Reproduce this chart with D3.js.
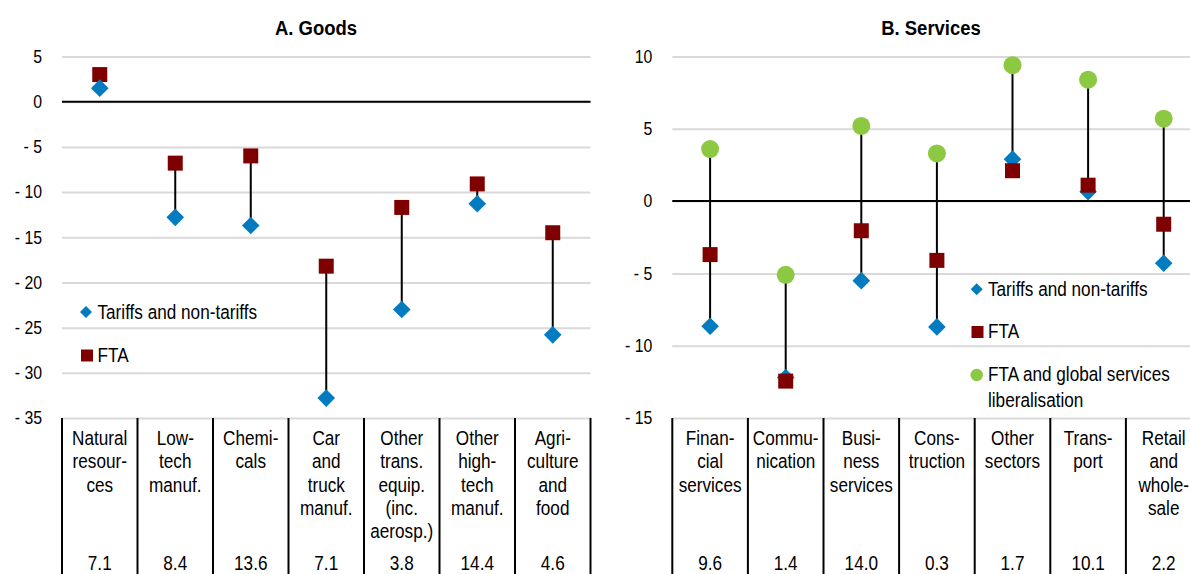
<!DOCTYPE html>
<html>
<head>
<meta charset="utf-8">
<script src="https://cdn.jsdelivr.net/npm/d3@7/dist/d3.min.js"></script>
<style>
  html, body { margin: 0; padding: 0; background: #fff; }
  svg { display: block; }
  text { font-family: "Liberation Sans", Arial, sans-serif; fill: #000; }
</style>
</head>
<body>
<svg id="chart" width="1190" height="574"></svg>
<script>
// ---- Data ----------------------------------------------------------------
// Panel A: goods sectors
const goodsCategories = ["Natural resources", "Low-tech manuf.", "Chemicals", "Car and truck manuf.",
  "Other trans. equip. (inc. aerosp.)", "Other high-tech manuf.", "Agriculture and food"];
const goodsLabelLines = [["Natural", "resour-", "ces"], ["Low-", "tech", "manuf."], ["Chemi-", "cals"],
  ["Car", "and", "truck", "manuf."], ["Other", "trans.", "equip.", "(inc.", "aerosp.)"],
  ["Other", "high-", "tech", "manuf."], ["Agri-", "culture", "and", "food"]];
const goodsShares = ["7.1", "8.4", "13.6", "7.1", "3.8", "14.4", "4.6"];
const goodsTariffs = [1.5, -12.8, -13.7, -32.8, -23.0, -11.3, -25.8];
const goodsFTA = [3.0, -6.8, -6.0, -18.2, -11.7, -9.1, -14.5];
const goodsTicks = [5, 0, -5, -10, -15, -20, -25, -30, -35];

// Panel B: services sectors
const servicesCategories = ["Financial services", "Communication", "Business services", "Construction",
  "Other sectors", "Transport", "Retail and wholesale"];
const servicesLabelLines = [["Finan-", "cial", "services"], ["Commu-", "nication"], ["Busi-", "ness", "services"],
  ["Cons-", "truction"], ["Other", "sectors"], ["Trans-", "port"], ["Retail", "and", "whole-", "sale"]];
const servicesShares = ["9.6", "1.4", "14.0", "0.3", "1.7", "10.1", "2.2"];
const servicesTariffs = [-8.65, -12.2, -5.5, -8.7, 2.9, 0.65, -4.3];
const servicesFTA = [-3.7, -12.45, -2.05, -4.1, 2.1, 1.1, -1.6];
const servicesGlobal = [3.6, -5.1, 5.2, 3.3, 9.4, 8.4, 5.7];
const servicesTicks = [10, 5, 0, -5, -10, -15];

// ---- Styling -------------------------------------------------------------
const BLUE = "#037bc1", RED = "#7f0000", GREEN = "#8cc841", GRID = "#d9d9d9";
const SX = 0.88;           // horizontal condensation for an Arial-Narrow look
const LABEL_SIZE = 19.5;
const TOP = 56.5, BOTTOM = 418;

const svg = d3.select("#chart");
svg.append("rect").attr("width", 1190).attr("height", 574).attr("fill", "#fff");

const fmt = d => d < 0 ? "- " + Math.abs(d) : String(d);

function narrow(sel, x, y) {
  return sel.attr("transform", `translate(${x},${y}) scale(${SX},1)`);
}

const diamond = s => `M0,${-s}L${s},0L0,${s}L${-s},0Z`;

function panel(opts) {
  const g = svg.append("g");
  const x = d3.scaleBand().domain(opts.categories).range([opts.left, opts.right]).padding(0);
  const y = d3.scaleLinear().domain(opts.domain).range([BOTTOM, TOP]);

  // Gridlines and tick labels
  const axis = d3.axisLeft(y).tickValues(opts.ticks).tickFormat(fmt)
    .tickSize(-(opts.right - opts.left)).tickPadding(20 / SX);
  const ax = g.append("g").attr("transform", `translate(${opts.left},0)`).call(axis);
  ax.select(".domain").remove();
  ax.selectAll(".tick line").attr("stroke", GRID).attr("stroke-width", 2);
  ax.selectAll(".tick text")
    .attr("font-size", 18).attr("font-family", "Liberation Sans, Arial, sans-serif")
    .attr("fill", "#000")
    .attr("x", -20 / SX)
    .attr("transform", `scale(${SX},1)`);

  // Zero line
  g.append("line").attr("x1", opts.left).attr("x2", opts.right)
    .attr("y1", y(0)).attr("y2", y(0)).attr("stroke", "#000").attr("stroke-width", 2);

  // Title
  narrow(g.append("text"), opts.titleX, 35)
    .attr("text-anchor", "middle").attr("font-size", 21).attr("font-weight", "bold")
    .text(opts.title);

  // Table of category names and shares beneath the plot
  const bounds = opts.categories.map(c => x(c)).concat([opts.right]);
  g.selectAll("line.col").data(bounds).join("line").attr("class", "col")
    .attr("x1", d => d).attr("x2", d => d).attr("y1", BOTTOM).attr("y2", 574)
    .attr("stroke", "#000").attr("stroke-width", 2);

  opts.categories.forEach((c, i) => {
    const cx = x(c) + x.bandwidth() / 2;
    opts.labelLines[i].forEach((line, j) => {
      narrow(g.append("text"), cx, 445 + j * 23.3)
        .attr("text-anchor", "middle").attr("font-size", LABEL_SIZE).text(line);
    });
    narrow(g.append("text"), cx, 569.5)
      .attr("text-anchor", "middle").attr("font-size", LABEL_SIZE).text(opts.shares[i]);
  });

  // Connectors from the lowest to the highest estimate in each sector
  const cx = i => x(opts.categories[i]) + x.bandwidth() / 2;
  const ranges = opts.categories.map((c, i) => {
    const vals = opts.series.map(s => s.values[i]);
    return [d3.min(vals), d3.max(vals)];
  });
  g.selectAll("line.conn").data(ranges).join("line").attr("class", "conn")
    .attr("x1", (d, i) => cx(i)).attr("x2", (d, i) => cx(i))
    .attr("y1", d => y(d[0])).attr("y2", d => y(d[1]))
    .attr("stroke", "#000").attr("stroke-width", 2);

  // Markers
  opts.series.forEach(s => {
    const sel = g.append("g").selectAll("path").data(s.values).join("path")
      .attr("transform", (d, i) => `translate(${cx(i)},${y(d)})`)
      .attr("fill", s.color);
    if (s.shape === "diamond") sel.attr("d", diamond(8.8));
    else if (s.shape === "square") sel.attr("d", "M-7.5,-7.5H7.5V7.5H-7.5Z");
    else sel.attr("d", d3.symbol(d3.symbolCircle, Math.PI * 9 * 9)());
  });

  // Legend
  opts.legend.forEach(item => {
    const p = g.append("path").attr("transform", `translate(${item.mx},${item.my})`).attr("fill", item.color);
    if (item.shape === "diamond") p.attr("d", diamond(6));
    else if (item.shape === "square") p.attr("d", "M-6,-6H6V6H-6Z");
    else p.attr("d", d3.symbol(d3.symbolCircle, Math.PI * 6.2 * 6.2)());
    item.lines.forEach((t, j) => {
      narrow(g.append("text"), item.tx, item.ty + j * 25.7)
        .attr("font-size", LABEL_SIZE).text(t);
    });
  });
}

panel({
  title: "A. Goods", titleX: 316,
  categories: goodsCategories, labelLines: goodsLabelLines, shares: goodsShares,
  left: 62, right: 590.5, domain: [-35, 5], ticks: goodsTicks,
  series: [
    { values: goodsFTA, color: RED, shape: "square" },
    { values: goodsTariffs, color: BLUE, shape: "diamond" }
  ],
  legend: [
    { shape: "diamond", color: BLUE, mx: 86, my: 312, tx: 97.5, ty: 318.5, lines: ["Tariffs and non-tariffs"] },
    { shape: "square", color: RED, mx: 87, my: 355.5, tx: 97.5, ty: 361.7, lines: ["FTA"] }
  ]
});

panel({
  title: "B. Services", titleX: 931,
  categories: servicesCategories, labelLines: servicesLabelLines, shares: servicesShares,
  left: 672.3, right: 1201.5, domain: [-15, 10], ticks: servicesTicks,
  series: [
    { values: servicesTariffs, color: BLUE, shape: "diamond" },
    { values: servicesFTA, color: RED, shape: "square" },
    { values: servicesGlobal, color: GREEN, shape: "circle" }
  ],
  legend: [
    { shape: "diamond", color: BLUE, mx: 976.7, my: 289.3, tx: 988, ty: 296, lines: ["Tariffs and non-tariffs"] },
    { shape: "square", color: RED, mx: 977.5, my: 332, tx: 988, ty: 338.3, lines: ["FTA"] },
    { shape: "circle", color: GREEN, mx: 976.7, my: 375, tx: 988, ty: 381, lines: ["FTA and global services", "liberalisation"] }
  ]
});
</script>
</body>
</html>
